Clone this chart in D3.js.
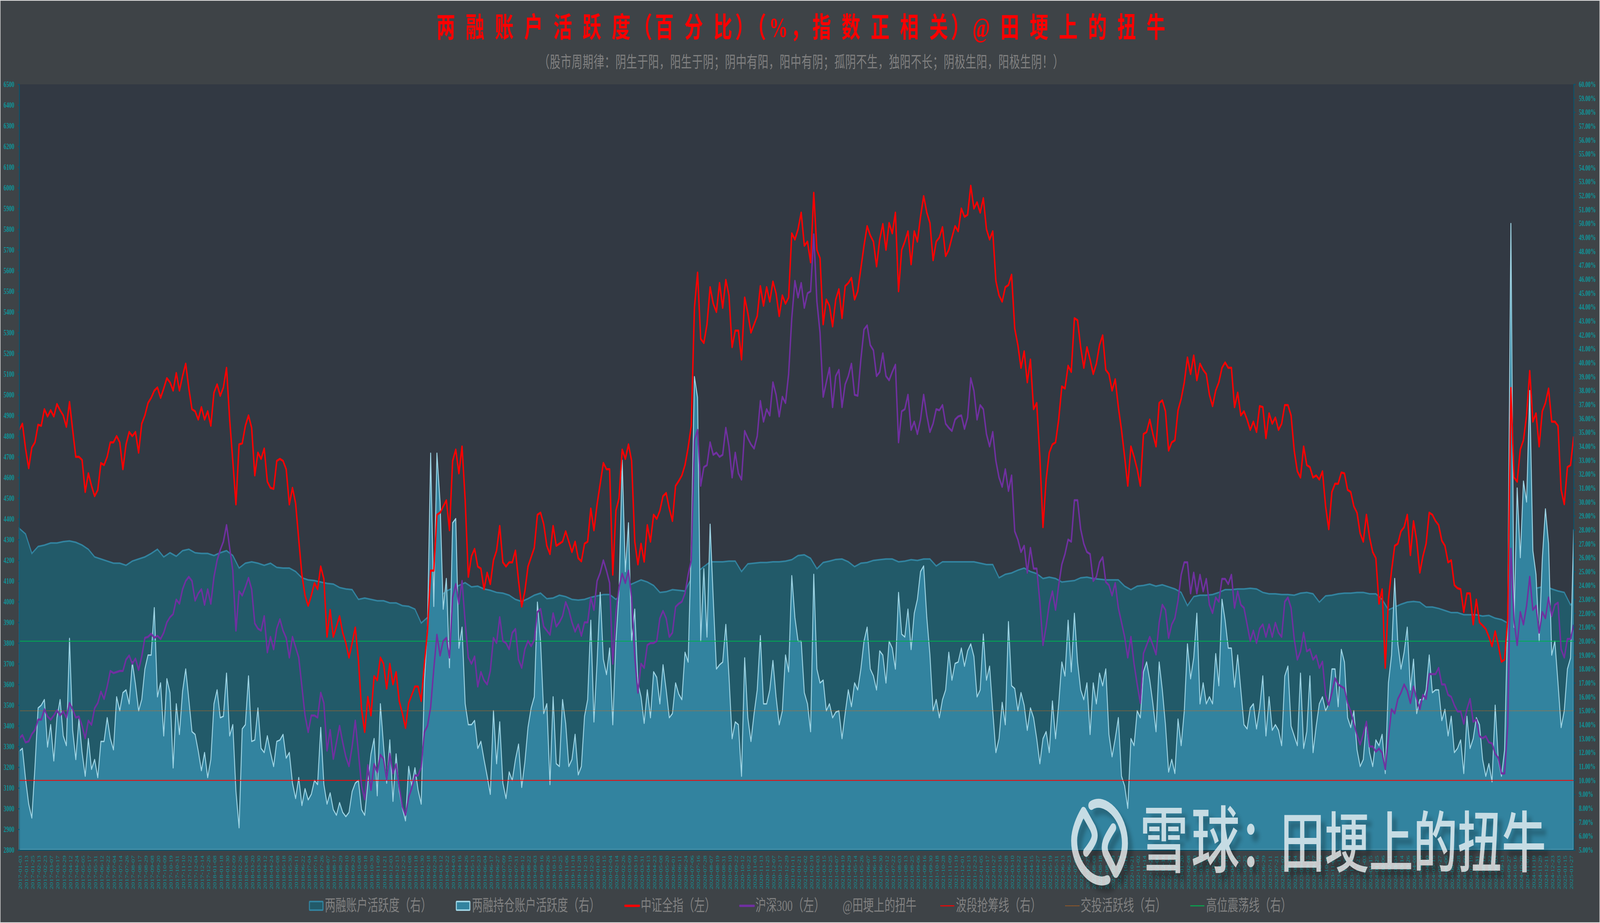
<!DOCTYPE html>
<html>
<head>
<meta charset="utf-8">
<script src="https://cdn.jsdelivr.net/npm/d3@7"></script>
<style>
html, body { margin: 0; background: #dcdcdc; overflow: hidden; }
svg { display: block; }
text { font-family: "Liberation Serif", "Noto Sans CJK SC", serif; }
</style>
</head>
<body>
<div id="chart"></div>
<script>
var W = 6143, H = 2364;
var left = 74, right = 6042, top_ = 216, bottom = 2177;

// tick labels, one every 8 trading days
var dates = [
"2017-01-03","2017-01-13","2017-01-25","2017-02-13","2017-02-23","2017-03-07","2017-03-17","2017-03-29","2017-04-12","2017-04-24","2017-05-05","2017-05-17","2017-05-31","2017-06-12","2017-06-22","2017-07-04","2017-07-14","2017-07-26",
"2017-08-07","2017-08-17","2017-08-29","2017-09-08","2017-09-20","2017-10-09","2017-10-19","2017-10-31","2017-11-10","2017-11-22","2017-12-04","2017-12-14","2017-12-26",
"2018-01-08","2018-01-18","2018-01-30","2018-02-09","2018-02-26","2018-03-08","2018-03-20","2018-03-30","2018-04-12","2018-04-24","2018-05-08","2018-05-18","2018-05-30","2018-06-11","2018-06-22","2018-07-04","2018-07-16","2018-07-26","2018-08-07","2018-08-17","2018-08-29","2018-09-10","2018-09-20","2018-10-08","2018-10-18","2018-10-30","2018-11-09","2018-11-21","2018-12-03","2018-12-13","2018-12-25",
"2019-01-08","2019-01-18","2019-01-30","2019-02-18","2019-02-28","2019-03-12","2019-03-22","2019-04-03","2019-04-16","2019-04-26","2019-05-13","2019-05-23","2019-06-04","2019-06-17","2019-06-27","2019-07-09","2019-07-19","2019-07-31","2019-08-12","2019-08-22","2019-09-03","2019-09-16","2019-09-26","2019-10-15","2019-10-25","2019-11-06","2019-11-18","2019-11-28","2019-12-10","2019-12-20",
"2020-01-03","2020-01-15","2020-02-04","2020-02-14","2020-02-26","2020-03-09","2020-03-19","2020-03-31","2020-04-13","2020-04-23","2020-05-08","2020-05-20","2020-06-01","2020-06-11","2020-06-24","2020-07-06","2020-07-16","2020-07-28","2020-08-07","2020-08-19","2020-08-31","2020-09-10","2020-09-22","2020-10-12","2020-10-22","2020-11-03","2020-11-13","2020-11-25","2020-12-07","2020-12-17","2020-12-29",
"2021-01-11","2021-01-21","2021-02-02","2021-02-19","2021-03-03","2021-03-15","2021-03-25","2021-04-07","2021-04-19","2021-04-29","2021-05-14","2021-05-26","2021-06-07","2021-06-18","2021-06-30","2021-07-12","2021-07-22","2021-08-03","2021-08-13","2021-08-25","2021-09-06","2021-09-16","2021-09-30","2021-10-18","2021-10-28","2021-11-09","2021-11-19","2021-12-01","2021-12-13","2021-12-23",
"2022-01-05","2022-01-17","2022-01-27","2022-02-16","2022-02-28","2022-03-10","2022-03-22","2022-04-01","2022-04-15","2022-04-27","2022-05-11","2022-05-19","2022-05-31","2022-06-13","2022-06-23","2022-07-05","2022-07-15","2022-07-27","2022-08-08","2022-08-18","2022-08-30","2022-09-09","2022-09-22","2022-10-11","2022-10-21","2022-11-02","2022-11-14","2022-11-24","2022-12-06","2022-12-16","2022-12-28",
"2023-01-10","2023-01-20","2023-02-08","2023-02-20","2023-03-02","2023-03-14","2023-03-24","2023-04-06","2023-04-18","2023-04-28","2023-05-15","2023-05-25","2023-06-06","2023-06-16","2023-06-29","2023-07-11","2023-07-21","2023-08-02","2023-08-14","2023-08-24","2023-09-05","2023-09-15","2023-09-27","2023-10-16","2023-10-26","2023-11-07","2023-11-17","2023-11-29","2023-12-11","2023-12-21",
"2024-01-03","2024-01-15","2024-01-25","2024-02-06","2024-02-21","2024-03-04","2024-03-14","2024-03-26","2024-04-08","2024-04-18","2024-04-30","2024-05-15","2024-05-27","2024-06-06","2024-06-19","2024-06-28","2024-07-09","2024-07-19","2024-07-31","2024-08-12","2024-08-22","2024-09-03","2024-09-13","2024-09-27","2024-10-16","2024-10-28","2024-11-07","2024-11-19","2024-11-29","2024-12-11","2024-12-23",
"2025-01-03","2025-01-15","2025-01-27"];

// 中证全指, left axis, one value every 4 trading days
var csiAll = [
4830,4860,4740,4645,4745,4770,4855,4850,4930,4895,
4925,4895,4955,4925,4900,4845,4965,4830,4700,4700,
4685,4530,4620,4560,4510,4540,4670,4660,4700,4770,
4770,4800,4770,4640,4760,4820,4800,4820,4720,4860,
4900,4960,4985,5020,5035,4985,5030,5080,5060,5020,
5105,5020,5090,5150,5030,4930,4920,4880,4940,4880,
4920,4850,5010,5050,4995,5035,5130,4880,4680,4470,
4760,4765,4850,4900,4840,4610,4720,4690,4740,4580,
4550,4545,4680,4690,4680,4640,4470,4550,4475,4300,
4130,4030,3980,4030,4090,4060,4170,4110,3830,3960,
3830,3880,3930,3850,3800,3730,3800,3875,3720,3480,
3370,3540,3450,3640,3620,3730,3700,3580,3700,3600,
3660,3520,3460,3390,3510,3550,3590,3590,3520,3700,
3860,4150,4150,4420,4430,4460,4490,4345,4680,4735,
4620,4750,4490,4120,4220,4255,4170,4160,4060,4140,
4085,4200,4247,4366,4190,4170,4190,4190,4247,4100,
3976,4050,4170,4215,4260,4420,4430,4375,4270,4230,
4366,4270,4280,4290,4340,4290,4240,4290,4210,4195,
4280,4290,4450,4345,4470,4570,4670,4640,4640,4130,
4440,4500,4735,4690,4760,4680,4290,4180,4280,4193,
4370,4290,4420,4400,4440,4510,4525,4450,4390,4560,
4583,4610,4660,4745,4850,5420,5590,5270,5250,5340,
5520,5440,5400,5540,5420,5555,5480,5230,5310,5310,
5170,5470,5395,5300,5340,5380,5525,5430,5520,5450,
5547,5490,5380,5480,5440,5470,5780,5750,5800,5880,
5720,5740,5640,5976,5700,5660,5340,5460,5430,5330,
5460,5510,5370,5525,5540,5565,5460,5500,5610,5720,
5815,5770,5740,5620,5750,5825,5700,5830,5780,5880,
5500,5700,5740,5790,5630,5790,5740,5860,5960,5880,
5830,5650,5740,5760,5810,5670,5700,5760,5815,5790,
5900,5860,5870,6010,5900,5930,5880,5950,5800,5750,
5790,5550,5480,5450,5520,5530,5580,5320,5240,5130,
5210,5060,5170,4930,4960,4700,4360,4590,4720,4760,
4770,4880,5040,5030,5140,5110,5370,5360,5230,5130,
5230,5170,5100,5150,5240,5287,5120,5100,5020,5075,
4940,4830,4700,4560,4750,4700,4640,4560,4810,4820,
4880,4810,4750,4960,4973,4920,4730,4770,4780,4925,
4980,5060,5180,5100,5190,5070,5150,5120,5100,5000,
4945,5020,5060,5130,5156,5130,5130,4940,5010,4900,
4920,4880,4830,4870,4820,4945,4940,4790,4910,4860,
4890,4830,4860,4950,4950,4900,4730,4630,4600,4750,
4660,4650,4600,4610,4590,4630,4460,4350,4530,4570,
4570,4624,4620,4540,4530,4460,4430,4330,4290,4420,
4310,4240,4210,3990,4060,3680,4010,4150,4270,4280,
4340,4360,4420,4225,4389,4295,4140,4220,4280,4430,
4420,4390,4370,4295,4270,4190,4200,4080,4065,4060,
3950,4040,4040,3890,4010,3900,3885,3868,3830,3785,
3857,3790,3710,3720,3920,5033,4600,4580,4736,4780,
4900,5115,4870,4910,4750,4920,4960,5030,4870,4870,
4850,4540,4471,4650,4660,4798];

// 沪深300, left axis, one value every 4 trading days
var hs300 = [
3340,3355,3320,3325,3360,3380,3430,3430,3480,3445,
3430,3450,3475,3450,3470,3440,3510,3480,3440,3445,
3400,3340,3425,3405,3485,3510,3565,3530,3590,3665,
3655,3660,3665,3665,3720,3740,3700,3725,3670,3735,
3825,3830,3845,3825,3835,3820,3850,3900,3925,3940,
4010,3990,4060,4100,4120,4100,4005,4040,4060,3985,
4060,3990,4120,4200,4250,4290,4370,4260,4150,3860,
4050,4030,4070,4115,4060,3895,3870,3860,3930,3755,
3830,3770,3870,3915,3860,3825,3730,3830,3780,3730,
3590,3450,3370,3450,3450,3440,3560,3510,3280,3380,
3240,3320,3400,3320,3250,3205,3300,3425,3270,3110,
3045,3210,3090,3215,3175,3260,3240,3140,3265,3170,
3215,3105,3010,2970,3055,3100,3160,3160,3200,3370,
3400,3490,3675,3840,3740,3810,3825,3730,4020,4085,
3990,4100,3900,3730,3700,3735,3590,3660,3620,3600,
3665,3825,3800,3925,3810,3800,3770,3850,3868,3720,
3680,3770,3810,3785,3815,3950,3965,3880,3860,3840,
3944,3880,3900,3930,3998,3960,3900,3855,3890,3835,
3900,3900,4020,3960,4100,4140,4200,4150,4090,3700,
3945,4070,4135,4090,4150,4020,3730,3560,3700,3680,
3790,3800,3800,3810,3920,3955,3920,3830,3850,3975,
3990,4000,4040,4130,4200,4780,4830,4560,4650,4660,
4770,4710,4720,4700,4710,4840,4750,4600,4720,4620,
4590,4825,4790,4760,4740,4800,4970,4870,4930,4900,
5060,5000,4895,4990,4960,5100,5370,5550,5470,5540,
5420,5490,5500,5775,5450,5300,4990,5060,5130,4940,
5090,5120,4940,5050,5090,5150,5000,4995,5170,5315,
5335,5240,5215,5090,5110,5200,5090,5070,5110,5145,
4770,4920,4930,5000,4830,4870,4810,4880,5000,4900,
4820,4860,4930,4925,4950,4860,4840,4825,4880,4895,
4900,4835,4890,5080,5020,4880,4950,4930,4810,4750,
4820,4680,4600,4555,4640,4535,4610,4340,4300,4240,
4270,4140,4260,4160,4160,4000,3790,3880,3990,4050,
3960,4080,4180,4230,4300,4290,4490,4490,4350,4280,
4240,4230,4100,4120,4190,4215,4095,4080,4030,4090,
3970,3900,3830,3730,3830,3700,3600,3510,3750,3790,
3830,3790,3745,3900,3985,3960,3825,3890,3920,4005,
4130,4190,4190,4040,4140,4040,4130,4050,4110,3985,
3945,4020,4000,4110,4110,4085,4130,3970,4050,3985,
3970,3890,3810,3860,3800,3870,3890,3830,3890,3830,
3898,3850,3830,4000,4020,3970,3820,3720,3760,3850,
3760,3770,3720,3740,3680,3710,3550,3500,3560,3630,
3600,3590,3580,3510,3470,3410,3356,3310,3360,3420,
3300,3300,3275,3290,3270,3190,3340,3480,3460,3530,
3560,3600,3570,3510,3590,3530,3480,3550,3530,3650,
3650,3650,3680,3600,3600,3550,3540,3500,3470,3470,
3410,3480,3530,3420,3430,3350,3340,3350,3320,3315,
3265,3245,3170,3170,3400,4256,3910,3790,3950,3890,
3980,4120,3960,3980,3850,3950,3920,4020,3930,3985,
3995,3770,3730,3820,3820,3888];

// 两融持仓账户活跃度 (%), right axis, one value every 4 trading days
var holdActive = [
12.1,12.3,10.1,8.3,7.3,11.0,15.2,15.4,15.8,12.4,
14.0,11.4,14.5,15.8,13.2,12.5,20.2,13.6,11.5,14.4,
12.0,10.3,13.0,10.8,11.5,10.2,12.8,12.8,14.5,13.0,
12.2,16.0,15.0,16.3,16.5,15.5,18.5,16.9,15.0,15.8,
18.0,19.0,19.0,22.4,16.0,17.0,13.2,17.3,16.3,10.9,
15.5,13.3,16.4,18.0,15.8,13.5,13.3,12.1,10.7,12.0,
10.2,11.5,15.5,16.5,14.5,14.6,17.7,13.2,14.0,9.2,
6.6,13.7,14.0,17.5,12.8,12.9,15.2,12.3,12.0,13.2,
12.0,11.0,12.8,12.9,13.3,11.6,12.0,9.8,8.7,10.2,
8.2,9.4,8.6,9.0,10.0,9.7,13.8,9.7,8.3,9.1,
7.9,7.5,8.4,7.7,7.4,7.7,9.2,9.8,10.0,7.9,
7.5,9.8,11.9,13.0,8.9,15.5,12.5,9.8,12.9,8.5,
11.9,9.2,8.0,7.1,11.0,9.6,10.9,9.3,8.3,17.0,
21.0,33.5,22.5,33.5,30,22.3,24.5,18.1,28.5,28.8,
19.5,21,15.5,14,14,14.3,12.3,12.8,11.5,10.3,
9.0,15,11.2,14.2,9.8,8.7,10.6,10,11.5,12.6,
9.5,11.3,13.8,15.2,16,22.8,20,14.8,15.5,9.7,
16,11.2,11,15.8,14.1,11.0,11.5,13.3,10.4,11,
14.6,15.8,21.5,14.2,18.5,23.5,18.7,17.6,19.5,14,
20,23.5,33,25,28.5,20,22.3,17,16,14.1,
16.5,14.5,17.8,17.4,15.5,18.3,16.5,14.5,14.8,17,
16.2,15.8,19.2,18.5,27,39,37.5,20,25.2,20.3,
28.4,23,18,18.3,18.5,21.2,17.5,13,14.2,14.0,
10.3,18.8,14.5,12.8,14.8,16.5,20.4,15.5,15.5,16.5,
18.6,16,14,15,19,17.8,24.7,21.7,20,20,
16.3,15.5,13.5,24.8,18,17,17.2,15,15.5,14.5,
14.9,15,13,14.8,16.5,15.3,17,16.5,18,20,
21,18,17.5,16.5,19.3,19,17,20,19.5,18,
23.5,20.5,20.3,22.3,19.4,22,23,25,25.4,21.7,
19,15,15.8,14.5,15.8,16.5,19.2,17.2,18.4,18.5,
19.5,18.2,19.3,19.8,18.9,16,16.5,20.5,17.2,18.2,
15,12,13,15.6,14,21.4,16.8,16.6,15,16.3,
15.4,13.6,15.2,14.5,13,11.2,13,13.5,12,15.7,
13,15.5,18.5,17.5,21.5,17.8,22,18.5,16.5,15.8,
17,13.3,17,15.5,17.7,16.8,18,13.3,11.7,13,
14.5,10.3,9.6,8,13,12.5,15,14.5,17.8,18.5,
17.2,15.5,13.5,18.5,16.5,14,10.6,11.5,10.5,14.4,
12.5,15,19.8,17.3,18.8,22,15.5,17,15.5,16,
15.5,19.1,16.8,23,21.5,19.5,19.5,16.7,19,16.5,
14,13.7,15.2,15.5,13.7,15.2,17.5,13.2,16,13.6,
14,13.6,12.5,17.5,18.2,13.9,13.2,12.5,17.7,12.3,
13.5,17.5,12,13.9,15.5,16,15,15.5,18,18,
15.3,19.4,18.5,14.5,13.8,15,12.2,11,11.5,14.2,
12,11,12.9,12.5,13.3,10.5,17,19,24.5,19.8,
18,19.2,21,16.5,18.7,14.8,15.8,15.8,16.5,19,
16.3,16.5,16.5,14.3,15.1,13.2,14.6,12,12.3,12.9,
10.5,14.6,12.3,13,14.5,14,11.5,10.3,11.2,9.9,
15.4,11.4,10.3,12.2,22,50,21,31,26,31.5,
30,38,26.5,24.8,20,25.9,29.5,27,19,20,
17,13.8,15,18,18.8,28];

// 两融账户活跃度 (%), right axis, one value every 8 trading days
var acctActive = [
28.1,27.7,26.3,26.8,26.9,27.05,27.05,27.15,27.2,27.1,
26.9,26.6,26.05,25.9,25.75,25.6,25.6,25.45,25.75,25.9,
26.05,26.3,26.6,26.05,26.35,26.1,26.5,26.6,26.35,26.3,
26.3,26.15,26.35,26.5,26.15,25.25,25.6,25.7,25.6,25.45,
25.6,25.3,25.25,25.25,25.0,24.55,24.4,24.35,24.25,24.15,
24.1,23.85,23.75,23.7,23.0,23.1,23.0,22.9,22.9,22.75,
22.75,22.55,22.5,22.3,21.3,21.7,22.2,23.2,23.6,23.8,
24.0,24.2,23.9,23.95,23.75,23.65,23.5,23.45,23.3,23.0,
22.85,23.05,23.3,23.45,23.05,23.1,23.3,23.2,23.0,22.95,
23.0,23.15,23.25,23.35,23.35,23.0,23.4,24.0,24.2,24.4,
24.25,24.0,23.5,23.55,23.7,23.65,23.6,24.5,25.0,25.35,
25.7,25.7,25.7,25.75,25.75,25.0,25.55,25.6,25.65,25.65,
25.7,25.7,25.75,25.85,26.15,26.2,25.95,25.2,25.65,25.75,
25.87,25.9,25.7,25.35,25.6,25.65,25.8,25.85,25.9,25.9,
25.7,25.75,25.85,25.8,25.9,25.9,25.4,25.7,25.7,25.7,
25.7,25.7,25.7,25.6,25.5,25.5,24.55,24.8,24.9,25.1,
25.25,25.0,24.85,24.5,24.6,24.5,24.25,24.3,24.35,24.55,
24.6,24.5,24.45,24.4,24.4,24.4,23.95,23.7,23.95,24.0,
24.1,23.95,24.05,23.9,23.75,23.5,22.55,23.2,23.3,23.3,
23.35,23.5,23.7,23.7,23.75,23.75,23.8,23.75,23.5,23.4,
23.4,23.35,23.35,23.3,23.45,23.5,23.4,22.8,23.25,23.3,
23.4,23.45,23.45,23.5,23.5,23.4,23.4,23.0,22.25,22.45,
22.65,22.8,22.85,22.8,22.45,22.45,22.35,22.2,22.05,22.05,
21.9,21.9,21.9,21.8,21.85,21.65,21.55,21.3,22.3,23.0,
23.6,23.75,23.85,23.95,23.75,23.6,23.5,22.6,22.85];

// reference lines on the right axis
var markLevels = [10, 15, 20];
var markColors = ["#ff0000", "#e36c0a", "#00b050"];

var titleText = "两 融 账 户 活 跃 度（百 分 比）（%，指 数 正 相 关）@ 田 埂 上 的 扭 牛";
var subtitleText = "（股市周期律：阴生于阳，阳生于阴；阴中有阳，阳中有阴；孤阴不生，独阳不长；阴极生阳，阳极生阴！）";
var legendNames = ["两融账户活跃度（右）","两融持仓账户活跃度（右）","中证全指（左）","沪深300（左）","@田埂上的扭牛","波段抢筹线（右）","交投活跃线（右）","高位震荡线（右）"];
var legendTextX = [1247, 1812, 2460, 2900, 3235, 3670, 4149, 4631];
var legendIconX = [1188, 1752, 2397, 2838, null, 3610, 4090, 4570];

var axisColor = "#08566f", tickColor = "#0f9499", dayStep = 4, lastDay = 1980;

// the window can be narrower than the chart, so squeeze the drawing into it
var svg = d3.select("#chart").append("svg")
.attr("viewBox", "0 0 " + W + " " + H)
.attr("preserveAspectRatio", "none")
.style("width", "100vw")
.style("height", "100vh");

svg.append("rect")
.attr("x", 2).attr("y", 2)
.attr("width", W - 4).attr("height", H - 4)
.attr("fill", "#3e4347");

svg.append("rect")
.attr("x", left).attr("y", top_)
.attr("width", right - left).attr("height", bottom - top_)
.attr("fill", "#323943");

// scales
var x = d3.scaleLinear().domain([0, lastDay]).range([left, right]);
var yLeft = d3.scaleLinear().domain([2800, 6500]).range([bottom, top_]);
var yRight = d3.scaleLinear().domain([5, 60]).range([bottom, top_]);

function areaOf(step) {
	return d3.area()
	.x(function(d, i) { return x(Math.min(i * step, lastDay)); })
	.y0(bottom)
	.y1(function(d) { return yRight(d); });
}

function lineOf(yScale) {
	return d3.line()
	.x(function(d, i) { return x(Math.min(i * dayStep, lastDay)); })
	.y(function(d) { return yScale(d); })
	.curve(d3.curveLinear);
}

// areas
svg.append("path")
.attr("d", areaOf(8)(acctActive))
.attr("fill", "#225a69")
.attr("stroke", "#32839f")
.attr("stroke-width", 4);

svg.append("path")
.attr("d", areaOf(dayStep)(holdActive))
.attr("fill", "#32839f")
.attr("stroke", "#9ed4e4")
.attr("stroke-width", 3.5)
.attr("stroke-linejoin", "round");

// reference lines
svg.selectAll(".mark").data(markLevels).enter().append("line")
.attr("class", "mark")
.attr("x1", left).attr("x2", right)
.attr("y1", function(d) { return yRight(d); })
.attr("y2", function(d) { return yRight(d); })
.attr("stroke", function(d, i) { return markColors[i]; })
.attr("stroke-width", function(d) { return d == 15 ? 1.5 : 2; })
.attr("stroke-dasharray", function(d) { return d == 15 ? "2 2" : null; });

// index lines
svg.append("path")
.attr("d", lineOf(yLeft)(csiAll))
.attr("fill", "none")
.attr("stroke", "#ff0000")
.attr("stroke-width", 5.5)
.attr("stroke-linejoin", "round");

svg.append("path")
.attr("d", lineOf(yLeft)(hs300))
.attr("fill", "none")
.attr("stroke", "#7030a0")
.attr("stroke-width", 5.5)
.attr("stroke-linejoin", "round");

// axes
var axisLeft = d3.axisLeft(yLeft).tickValues(d3.range(2800, 6501, 100)).tickSize(6).tickPadding(13).tickFormat(d3.format("d"));
var axisRight = d3.axisRight(yRight).tickValues(d3.range(5, 61)).tickSize(7).tickPadding(13).tickFormat(function(d) { return d.toFixed(2) + "%"; });
var axisBottom = d3.axisBottom(x).tickValues(d3.range(dates.length).map(function(d) { return d * 8; })).tickSize(0).tickFormat(function(d) { return dates[d / 8]; });

var gl = svg.append("g").attr("transform", "translate(" + left + ",0)").call(axisLeft);
var gr = svg.append("g").attr("transform", "translate(" + right + ",0)").call(axisRight);
var gb = svg.append("g").attr("transform", "translate(0," + bottom + ")").call(axisBottom);

[gl, gr, gb].forEach(function(g) {
	g.selectAll("path").attr("stroke", axisColor).attr("stroke-width", 3);
	g.selectAll("line").attr("stroke", axisColor).attr("stroke-width", 2.5);
	g.selectAll("text").attr("fill", tickColor)
	.style("font-family", '"Liberation Serif", serif');
});
gl.selectAll("text").style("font-size", "20.5px").style("font-weight", "bold");
gr.selectAll("text").style("font-size", "20px").style("font-weight", "bold");
gb.selectAll("text")
.style("font-size", "18.6px")
.style("text-anchor", "end")
.attr("transform", "rotate(-90)")
.attr("x", -14)
.attr("y", 3)
.attr("dy", ".35em");

// title and subtitle
svg.append("text")
.attr("x", 1676).attr("y", 95)
.attr("fill", "#ff0000")
.attr("font-size", 72)
.attr("font-weight", "bold")
.attr("textLength", 2798)
.attr("lengthAdjust", "spacing")
.text(titleText);

svg.append("text")
.attr("x", 2069).attr("y", 173)
.attr("fill", "#808080")
.attr("font-size", 41)
.attr("textLength", 2015)
.attr("lengthAdjust", "spacing")
.text(subtitleText);

// legend
var legend = svg.append("g");
legendNames.forEach(function(name, i) {
	var ix = legendIconX[i], cy = 2320;
	if (i < 2) {
		legend.append("rect")
		.attr("x", ix).attr("y", cy - 11)
		.attr("width", 52).attr("height", 22).attr("rx", 2)
		.attr("fill", i == 0 ? "#225a69" : "#32839f")
		.attr("stroke", i == 0 ? "#32839f" : "#9ed4e4")
		.attr("stroke-width", 4);
	} else if (i == 2 || i == 3) {
		legend.append("rect")
		.attr("x", ix).attr("y", cy - 3)
		.attr("width", 60).attr("height", 6).attr("rx", 3)
		.attr("fill", i == 2 ? "#ff0000" : "#7030a0");
	} else if (ix != null) {
		legend.append("line")
		.attr("x1", ix).attr("x2", ix + 54)
		.attr("y1", cy).attr("y2", cy)
		.attr("stroke", markColors[i - 5])
		.attr("stroke-width", i == 6 ? 2 : 2.5)
		.attr("stroke-dasharray", i == 6 ? "2 2" : null);
	}
	legend.append("text")
	.attr("x", legendTextX[i]).attr("y", 2333)
	.attr("fill", "#808080")
	.attr("font-size", 41)
	.text(name);
});

// watermark
var wm = svg.append("g")
.style("filter", "drop-shadow(18px 18px 6px rgba(0,0,0,.3))")
.attr("opacity", .72);

wm.append("path")
.attr("d", "M4190,2063 C4240,2040 4319,2090 4319,2160 C4319,2190 4300,2220 4284,2237 L4245,2185 C4235,2165 4245,2150 4274,2120")
.attr("fill", "none").attr("stroke", "#fff").attr("stroke-width", 23).attr("stroke-linecap", "round").attr("stroke-linejoin", "round");

wm.append("path")
.attr("d", "M4252,2253 C4200,2270 4124,2220 4124,2153 C4124,2125 4145,2095 4160,2078 L4195,2120 C4208,2140 4208,2150 4170,2183")
.attr("fill", "none").attr("stroke", "#fff").attr("stroke-width", 23).attr("stroke-linecap", "round").attr("stroke-linejoin", "round");

wm.append("text")
.attr("x", 4376).attr("y", 2220)
.attr("fill", "#fff")
.style("font-family", '"Noto Sans CJK SC", sans-serif')
.style("font-weight", 500)
.attr("font-size", 186)
.attr("letter-spacing", 12)
.text("雪球");

wm.append("text")
.attr("x", 4760).attr("y", 2220)
.attr("fill", "#fff")
.style("font-family", '"Noto Sans CJK SC", sans-serif')
.style("font-weight", 500)
.attr("font-size", 170)
.text("：");

wm.append("text")
.attr("x", 4916).attr("y", 2220)
.attr("fill", "#fff")
.style("font-family", '"Noto Sans CJK SC", sans-serif')
.style("font-weight", 500)
.attr("font-size", 170)
.text("田埂上的扭牛");
</script>
</body>
</html>
